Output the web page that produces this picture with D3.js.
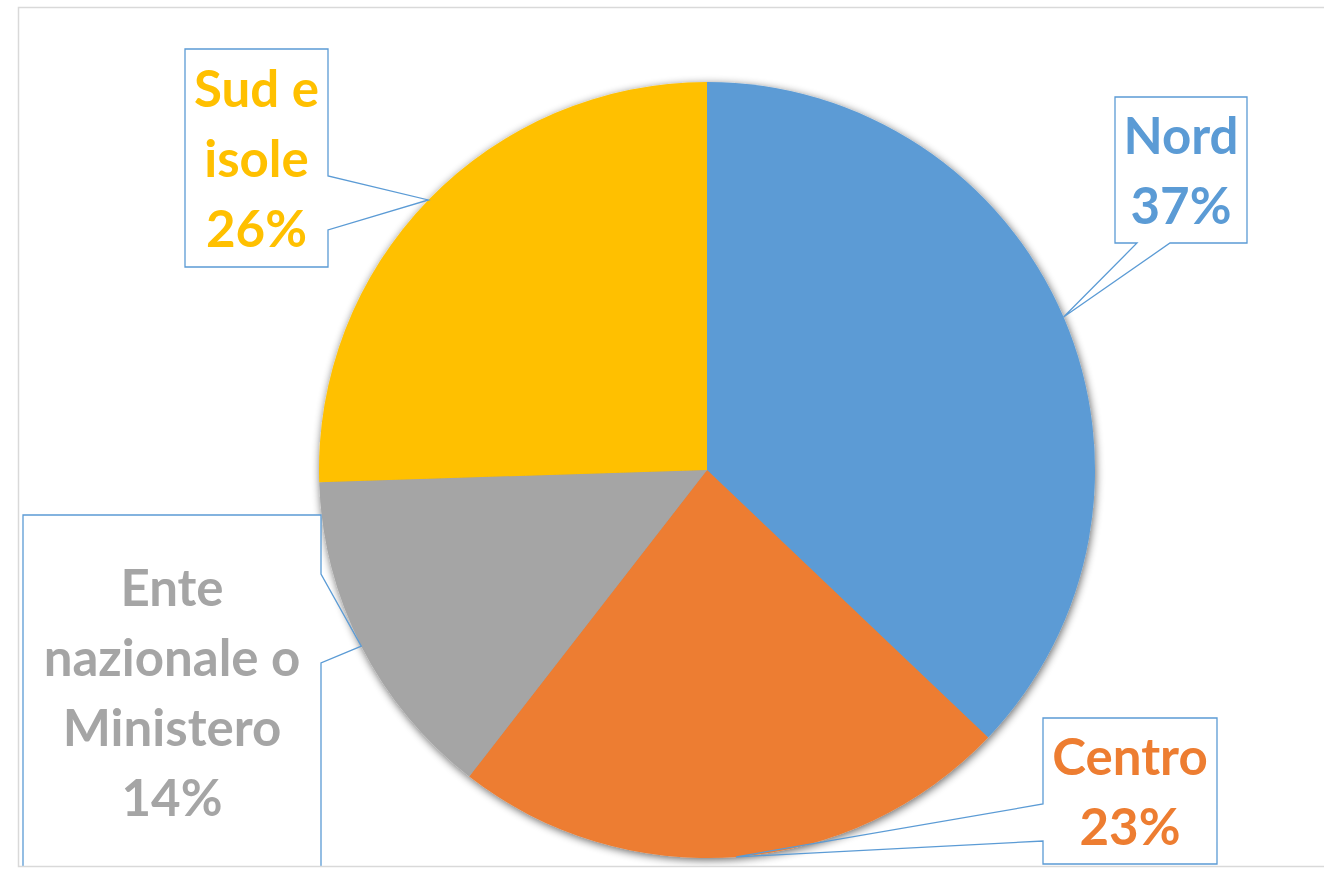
<!DOCTYPE html>
<html>
<head>
<meta charset="utf-8">
<script src="https://cdn.jsdelivr.net/npm/d3@7"></script>
<style>
  body { margin: 0; background: #fff; }
  svg { display: block; }
</style>
</head>
<body>
<svg width="1324" height="870"></svg>
<script>
// data
var categories = ["Nord", "Centro", "Ente nazionale o Ministero", "Sud e isole"];
var values = [37.1, 23.4, 14.0, 25.5];
var labelLines = [["Nord"], ["Centro"], ["Ente", "nazionale o", "Ministero"], ["Sud e", "isole"]];
var colors = ["#5b9bd5", "#ed7d31", "#a5a5a5", "#ffc000"];

var svg = d3.select("svg"),
  width = +svg.attr("width"),
  height = +svg.attr("height");

var defs = svg.append("defs");

// everything inside the chart area gets clipped to the frame
defs.append("clipPath").attr("id", "frameClip")
  .append("rect")
  .attr("x", 18).attr("y", 7)
  .attr("width", 1330).attr("height", 859);

// chart frame background
svg.append("rect")
  .attr("x", 18.5).attr("y", 7.5)
  .attr("width", 1330).attr("height", 859)
  .attr("fill", "#fff");

// soft shadow under the pie
var f = defs.append("filter").attr("id", "shadow")
  .attr("x", "-10%").attr("y", "-10%").attr("width", "120%").attr("height", "120%");
f.append("feGaussianBlur").attr("in", "SourceAlpha").attr("stdDeviation", 4).attr("result", "b");
f.append("feOffset").attr("in", "b").attr("dx", 1).attr("dy", 2).attr("result", "o");
f.append("feComponentTransfer").attr("in", "o").attr("result", "s")
  .append("feFuncA").attr("type", "linear").attr("slope", 0.6);
var m = f.append("feMerge");
m.append("feMergeNode").attr("in", "s");
m.append("feMergeNode").attr("in", "SourceGraphic");

var cx = 707, cy = 470, radius = 388;

var pie = d3.pie().sort(null).value(function(d) { return d; });
var arcs = pie(values);

var arc = d3.arc().innerRadius(0).outerRadius(radius);
var edge = d3.arc().innerRadius(radius).outerRadius(radius);

var inner = svg.append("g").attr("clip-path", "url(#frameClip)");

var g = inner.append("g").attr("transform", "translate(" + cx + "," + cy + ")");

g.append("g")
  .attr("filter", "url(#shadow)")
  .selectAll("path")
  .data(arcs)
  .enter()
  .append("path")
  .attr("d", arc)
  .attr("fill", function(d, i) { return colors[i]; });

// callout boxes: rect + the edge where the pointer leaves it
var callouts = [
  { x: 1115, y: 97, w: 132, h: 146, side: "bottom", b: [1137, 1170] },
  { x: 1043, y: 718, w: 174, h: 146, side: "left", b: [804, 841] },
  { x: 23, y: 515, w: 298, h: 354, side: "right", b: [574, 663] },
  { x: 185, y: 49, w: 143, h: 218, side: "right", b: [176, 230] }
];

function calloutPath(c, a) {
  var x0 = c.x, y0 = c.y, x1 = c.x + c.w, y1 = c.y + c.h;
  var p = d3.path();
  p.moveTo(x0, y0);
  p.lineTo(x1, y0);
  if (c.side == "right") {
    p.lineTo(x1, c.b[0]);
    p.lineTo(a[0], a[1]);
    p.lineTo(x1, c.b[1]);
  }
  p.lineTo(x1, y1);
  if (c.side == "bottom") {
    p.lineTo(c.b[1], y1);
    p.lineTo(a[0], a[1]);
    p.lineTo(c.b[0], y1);
  }
  p.lineTo(x0, y1);
  if (c.side == "left") {
    p.lineTo(x0, c.b[1]);
    p.lineTo(a[0], a[1]);
    p.lineTo(x0, c.b[0]);
  }
  p.closePath();
  return p.toString();
}

var labels = inner.append("g").attr("class", "labels");

arcs.forEach(function(d, i) {
  var c = callouts[i];
  var pt = edge.centroid(d);
  var anchor = [pt[0] + cx, pt[1] + cy];

  labels.append("rect")
    .attr("x", c.x).attr("y", c.y)
    .attr("width", c.w).attr("height", c.h)
    .attr("fill", "#fff");

  labels.append("path")
    .attr("d", calloutPath(c, anchor))
    .attr("fill", "none")
    .attr("stroke", "#5b9bd5")
    .attr("stroke-width", 1.3)
    .attr("stroke-linejoin", "miter");

  var lines = labelLines[i].concat([Math.round(values[i]) + "%"]);
  var lh = 70;
  var mid = c.y + c.h / 2 + 19;
  var first = mid - (lines.length - 1) / 2 * lh;

  var t = labels.append("text")
    .attr("text-anchor", "middle")
    .attr("font-family", "Lato, 'Open Sans', sans-serif")
    .attr("font-weight", "bold")
    .attr("font-size", 51)
    .attr("fill", colors[i]);

  lines.forEach(function(s, k) {
    t.append("tspan")
      .attr("x", c.x + c.w / 2)
      .attr("y", first + k * lh)
      .text(s);
  });
});

// frame border on top
svg.append("rect")
  .attr("x", 18.5).attr("y", 7.5)
  .attr("width", 1330).attr("height", 859)
  .attr("fill", "none")
  .attr("stroke", "#d9d9d9")
  .attr("stroke-width", 1.5);
</script>
</body>
</html>
